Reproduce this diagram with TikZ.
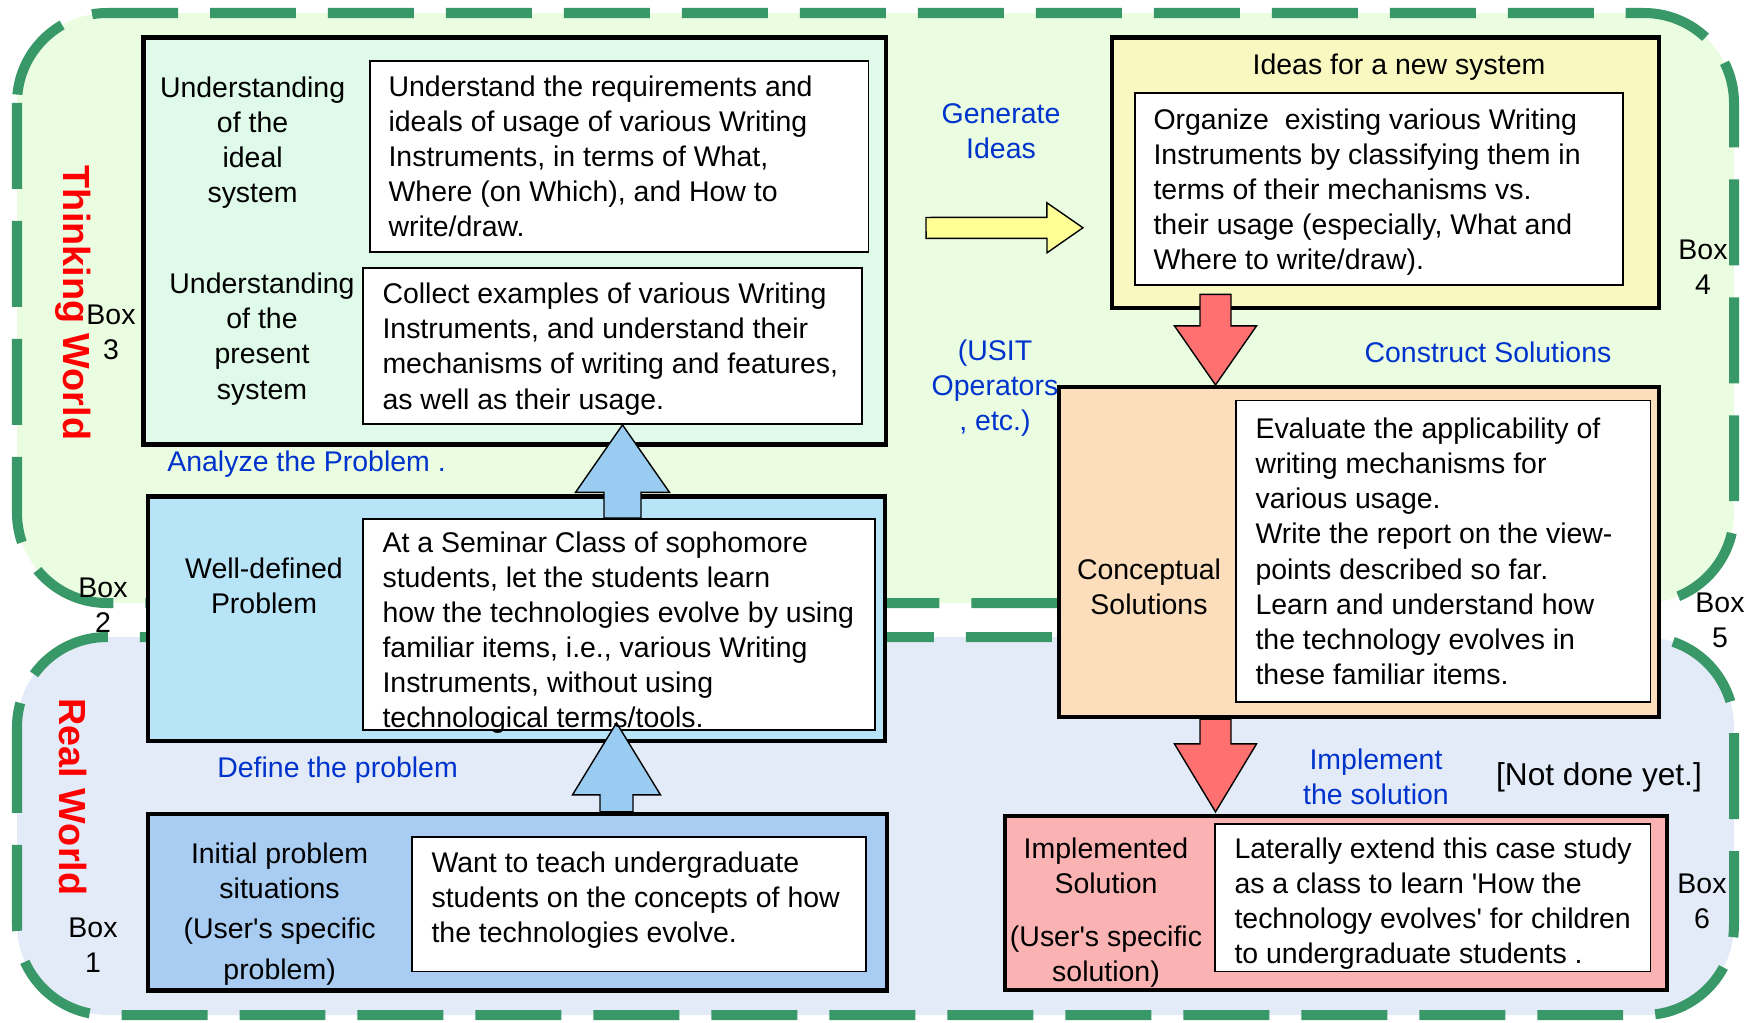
\documentclass[tikz,border=0pt]{standalone}
\usepackage{fontspec}
\setmainfont{Liberation Sans}
\usetikzlibrary{calc,positioning}

\definecolor{worldgreen}{RGB}{56,152,104}
\definecolor{thinkbg}{RGB}{235,253,224}
\definecolor{realbg}{RGB}{228,235,248}
\definecolor{boxthree}{RGB}{224,250,234}
\definecolor{boxtwo}{RGB}{184,228,247}
\definecolor{boxone}{RGB}{168,204,242}
\definecolor{boxfour}{RGB}{248,248,192}
\definecolor{boxfive}{RGB}{253,222,188}
\definecolor{boxsix}{RGB}{250,178,178}
\definecolor{upblue}{RGB}{153,204,240}
\definecolor{downred}{RGB}{255,112,112}
\definecolor{ideayellow}{RGB}{255,255,150}
\definecolor{noteblue}{RGB}{0,51,204}

% block arrow: tail, tip, shaft half width, head half width, head length, fill
\newcommand{\fatarrow}[6]{%
  \coordinate (hb) at ($(#2)!#5!(#1)$);
  \draw[fatline, fill=#6] ($(#1)!#3!90:(#2)$) -- ($(hb)!#3!90:(#2)$) -- ($(hb)!#4!90:(#2)$)
    -- (#2) -- ($(hb)!#4!-90:(#2)$) -- ($(hb)!#3!-90:(#2)$) -- ($(#1)!#3!-90:(#2)$) -- cycle;}

\begin{document}
\begin{tikzpicture}[x=0.02cm, y=-0.02cm, font=\fontsize{16.2}{20}\selectfont,
  world/.style={draw=worldgreen, line width=5.7pt, dash pattern=on 1.72cm off 0.64cm, rounded corners=1.8cm},
  stage/.style={draw, line width=2.4pt, inner sep=0pt},
  detail/.style={draw, fill=white, line width=1pt, inner sep=0pt},
  body/.style={align=left, inner sep=0pt},
  caption/.style={align=center, inner sep=0pt},
  note/.style={text=noteblue, align=center, inner sep=0pt},
  worldname/.style={text=red, rotate=-90, inner sep=0pt, font=\fontsize{21.5}{24}\selectfont\bfseries},
  fatline/.style={draw, line width=0.8pt, line join=miter}]

\useasboundingbox (0,0) rectangle (1749,1022);

% thinking world and real world
\draw[world, fill=thinkbg] (17,13) rectangle (1734,603);
\draw[world, fill=realbg] (17,637) rectangle (1734,1015);

% left column
\node[stage, fill=boxthree, minimum width=14.85cm, minimum height=8.14cm] (b3) at (514.75,240.95) {};
\node[detail, minimum width=9.97cm, minimum height=3.83cm] (in3a) at (619.3,156.35) {};
\node[detail, minimum width=9.98cm, minimum height=3.12cm] (in3b) at (612.5,346) {};

\node[stage, fill=boxtwo, minimum width=14.74cm, minimum height=4.89cm] (b2) at (516.5,618.8) {};
\node[detail, minimum width=10.24cm, minimum height=4.22cm] (in2) at (619,624.5) {};

\node[stage, fill=boxone, minimum width=14.78cm, minimum height=3.53cm] (b1) at (517.5,902.25) {};
\node[detail, minimum width=9.08cm, minimum height=2.69cm] (in1) at (639,904.25) {};

% right column
\node[stage, fill=boxfour, minimum width=10.94cm, minimum height=5.41cm] (b4) at (1385.5,172.75) {};
\node[detail, minimum width=9.76cm, minimum height=3.84cm] (in4) at (1379,189) {};

\node[stage, fill=boxfive, minimum width=12cm, minimum height=6.6cm] (b5) at (1359,552) {};
\node[detail, minimum width=8.29cm, minimum height=6.03cm] (in5) at (1443.25,551.3) {};

\node[stage, fill=boxsix, minimum width=13.24cm, minimum height=3.48cm] (b6) at (1336,903) {};
\node[detail, minimum width=8.71cm, minimum height=2.95cm] (in6) at (1432.75,897.75) {};

% arrows
\coordinate (upAtail) at ($(in2.north)+(3.5,0)$);
\coordinate (upAtip) at ($(in3b.south)+(10,0)$);
\coordinate (upBtail) at ($(b1.north)+(99,0)$);
\coordinate (upBtip) at ($(in2.south)+(-2.5,-8)$);
\coordinate (dnCtail) at ($(in4.south)+(-163.5,8.5)$);
\coordinate (dnCtip) at ($(b5.north)+(-143.5,0)$);
\coordinate (dnDtail) at ($(b5.south)+(-143.5,0)$);
\coordinate (dnDtip) at ($(b6.north)+(-120.5,-2)$);
\coordinate (ideatail) at ($(b3.east)+(38,-13)$);
\coordinate (ideatip) at ($(b4.west)+(-27,55)$);

\fatarrow{upAtail}{upAtip}{0.37cm}{0.94cm}{1.35cm}{upblue}
\fatarrow{upBtail}{upBtip}{0.33cm}{0.88cm}{1.44cm}{upblue}
\fatarrow{dnCtail}{dnCtip}{0.31cm}{0.82cm}{1.18cm}{downred}
\fatarrow{dnDtail}{dnDtip}{0.31cm}{0.82cm}{1.36cm}{downred}
\fatarrow{ideatail}{ideatip}{0.21cm}{0.5cm}{0.72cm}{ideayellow}

% box texts
\node[body, right=0.38cm of in3a.west] (t3a) {Understand the requirements and\\ideals of usage of various Writing\\Instruments, in terms of What,\\Where (on Which), and How to\\write/draw.};
\node[body, anchor=west] (t3b) at ($(in3b.west)+(20,3)$) {Collect examples of various Writing\\Instruments, and understand their\\mechanisms of writing and features,\\as well as their usage.};
\node[body, anchor=west] (t2) at ($(in2.west)+(20,8)$) {At a Seminar Class of sophomore\\students, let the students learn\\how the technologies evolve by using\\familiar items, i.e., various Writing\\Instruments, without using\\technological terms/tools.};
\node[body, anchor=west] (t1) at ($(in1.west)+(20,-4)$) {Want to teach undergraduate\\students on the concepts of how\\the technologies evolve.};
\node[body, anchor=west] (t4) at ($(in4.west)+(19,3)$) {Organize\ \ existing various Writing\\Instruments by classifying them in\\terms of their mechanisms vs.\\their usage (especially, What and\\Where to write/draw).};
\node[body, right=0.4cm of in5.west] (t5) {Evaluate the applicability of\\writing mechanisms for\\various usage.\\Write the report on the view-\\points described so far.\\Learn and understand how\\the technology evolves in\\these familiar items.};
\node[body, anchor=west] (t6) at ($(in6.west)+(20,6)$) {Laterally extend this case study\\as a class to learn \textquotesingle How the\\technology evolves\textquotesingle{} for children\\to undergraduate students .};

% captions
\node[caption] (c3a) at (252.6,142.5) {Understanding\\of the\\ideal\\system};
\node[caption] (c3b) at (262,339) {Understanding\\of the\\present\\system};
\node[caption] (c2) at (264,585.5) {Well-defined\\Problem};
\node[caption] (c1) at (279.6,914) {Initial problem\\situations\\[3pt](User\textquotesingle s specific\\[3pt]problem)};
\node[caption] (c4) at (1399,67) {Ideas for a new system};
\node[caption] (c5) at (1149,586.5) {Conceptual\\Solutions};
\node[caption] (c6) at (1106,912.75) {Implemented\\Solution\\[10pt](User\textquotesingle s specific\\solution)};

\node[caption] (n3) at (111,332) {Box\\3};
\node[caption] (n2) at (103,605) {Box\\2};
\node[caption] (n1) at (93,945) {Box\\1};
\node[caption] (n4) at (1703,267.5) {Box\\4};
\node[caption] (n5) at (1720,620) {Box\\5};
\node[caption] (n6) at (1702,901.5) {Box\\6};

\node[worldname] (thinking) at (73.5,303) {Thinking World};
\node[worldname] (real) at (73.5,797) {Real World};

% steps between the boxes
\node[note, anchor=west] (analyze) at (167,464) {Analyze the Problem .};
\node[note, anchor=west] (define) at (217,770) {Define the problem};
\node[note] (generate) at (1001,131.5) {Generate\\Ideas};
\node[note] (usit) at (995,388) {(USIT\\Operators\\, etc.)};
\node[note] (construct) at (1488,352) {Construct Solutions};
\node[note] (implement) at (1376,776.5) {Implement\\the solution};
\node[caption, font=\fontsize{18}{22}\selectfont] (notyet) at (1599,777) {[Not done yet.]};
\end{tikzpicture}
\end{document}
